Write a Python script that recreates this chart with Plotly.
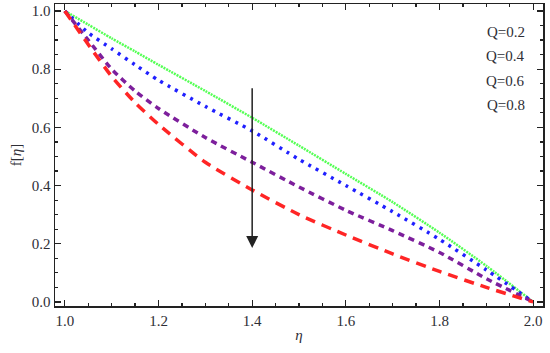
import plotly.graph_objects as go

eta = [1.0, 1.05, 1.1, 1.15, 1.2, 1.3, 1.4, 1.5, 1.6, 1.7, 1.8, 1.9, 2.0]
f_q02 = [1.0, 0.953, 0.906, 0.861, 0.815, 0.725, 0.633, 0.537, 0.44, 0.343, 0.238, 0.124, 0.0]
f_q04 = [1.0, 0.925, 0.87, 0.815, 0.762, 0.672, 0.588, 0.49, 0.40, 0.31, 0.215, 0.11, 0.0]
f_q06 = [1.0, 0.90, 0.80, 0.725, 0.665, 0.565, 0.48, 0.395, 0.315, 0.245, 0.17, 0.08, 0.0]
f_q08 = [1.0, 0.885, 0.775, 0.685, 0.61, 0.48, 0.385, 0.30, 0.23, 0.165, 0.105, 0.05, 0.0]
q_labels = ["Q=0.2", "Q=0.4", "Q=0.6", "Q=0.8"]
arrow_eta = 1.4
arrow_from = 0.74
arrow_to = 0.185

series = [
    (f_q02, "#55ff55", 2.5, "2px,1px"),
    (f_q04, "#2020ff", 3.5, "3px,5.5px"),
    (f_q06, "#7d1f9c", 3.5, "6px,5px"),
    (f_q08, "#ff2525", 3.5, "10px,7px"),
]

fig = go.Figure()
for (ys, col, w, dash), name in zip(series, q_labels):
    fig.add_trace(go.Scatter(x=eta, y=ys, mode="lines", name=name,
                             line=dict(color=col, width=w, dash=dash, shape="spline", smoothing=0.6),
                             showlegend=False, hoverinfo="skip"))

font = dict(family="Liberation Serif, Times New Roman, serif", size=15, color="#2e2e36")

W0, W1, H0, H1 = 55, 543, 4, 306
for i, lab in enumerate(q_labels):
    px_y = 31.7 + 24.4 * i
    fig.add_annotation(x=(527 - W0) / (W1 - W0), y=1 - (px_y - H0) / (H1 - H0),
                       xref="paper", yref="paper",
                       text=lab, showarrow=False, xanchor="right", yanchor="middle",
                       font=dict(family=font["family"], size=15, color="#2e2e36"))

fig.add_annotation(x=arrow_eta, y=arrow_to, ax=arrow_eta, ay=arrow_from,
                   xref="x", yref="y", axref="x", ayref="y",
                   showarrow=True, arrowhead=2, arrowsize=1.6, arrowwidth=1.5,
                   arrowcolor="#222222", text="")

axis_common = dict(showline=True, linecolor="#222222", linewidth=1.5, mirror="ticks",
                   ticks="inside", ticklen=6, tickwidth=1.2, tickcolor="#222222",
                   showgrid=False, zeroline=False, tickfont=font, automargin=False)

fig.update_xaxes(range=[0.979, 2.021], tickvals=[1.0, 1.2, 1.4, 1.6, 1.8, 2.0],
                 ticktext=["1.0", "1.2", "1.4", "1.6", "1.8", "2.0"],
                 minor=dict(dtick=0.05, tick0=1.0, ticks="inside", ticklen=3, tickcolor="#222222", showgrid=False),
                 title=dict(text="<i>η</i>", font=dict(family=font["family"], size=15, color="#2e2e36"), standoff=2),
                 **axis_common)
fig.update_yaxes(range=[-0.014, 1.024], tickvals=[0.0, 0.2, 0.4, 0.6, 0.8, 1.0],
                 ticktext=["0.0", "0.2", "0.4", "0.6", "0.8", "1.0"],
                 minor=dict(dtick=0.05, tick0=0.0, ticks="inside", ticklen=3, tickcolor="#222222", showgrid=False),
                 title=dict(text="f[<i>η</i>]", font=dict(family=font["family"], size=15, color="#2e2e36"), standoff=6),
                 **axis_common)

fig.update_layout(width=550, height=353, margin=dict(l=55, r=7, t=4, b=47),
                  plot_bgcolor="white", paper_bgcolor="white", hovermode=False)

fig.write_html("out.html", config={"displayModeBar": False, "staticPlot": True},
               post_script="document.body.style.margin='0px';document.body.style.overflow='hidden';")
